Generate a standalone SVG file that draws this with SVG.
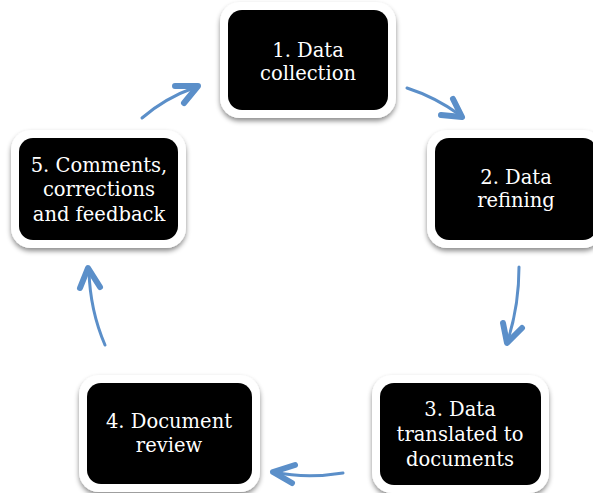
<svg xmlns="http://www.w3.org/2000/svg" width="593" height="493" viewBox="0 0 593 493">
<defs>
<filter id="sh" x="-20%" y="-20%" width="140%" height="150%">
<feGaussianBlur in="SourceAlpha" stdDeviation="2.5"/>
<feOffset dx="0" dy="3" result="b"/>
<feFlood flood-color="#000" flood-opacity="0.45"/>
<feComposite in2="b" operator="in"/>
<feMerge><feMergeNode/><feMergeNode in="SourceGraphic"/></feMerge>
</filter>
</defs>
<style>
.frame{fill:#fff;filter:url(#sh)}
.box{fill:#000}
.lbl{font-family:"DejaVu Serif","Liberation Serif",serif;font-size:19.5px;fill:#fff;text-anchor:middle}
.shaft{fill:none;stroke:#5B8FC9;stroke-width:3;stroke-linecap:round}
.head{fill:none;stroke:#5B8FC9;stroke-width:6;stroke-linecap:round;stroke-linejoin:round}
</style>
<rect width="593" height="493" fill="#fff"/>
<g id="node1">
<rect class="frame" x="220" y="2" width="176" height="116" rx="20"/>
<rect class="box" x="228" y="10" width="160" height="100" rx="14"/>
<text class="lbl" x="308" y="57">1. Data</text>
<text class="lbl" x="308" y="80">collection</text>
</g>
<g id="node2">
<rect class="frame" x="427" y="130" width="176" height="118" rx="20"/>
<rect class="box" x="435" y="138" width="162" height="102" rx="14"/>
<text class="lbl" x="516" y="184">2. Data</text>
<text class="lbl" x="516" y="207">refining</text>
</g>
<g id="node3">
<rect class="frame" x="372" y="375" width="177" height="118" rx="20"/>
<rect class="box" x="380" y="383" width="161" height="102" rx="14"/>
<text class="lbl" x="460" y="416">3. Data</text>
<text class="lbl" x="460" y="441">translated to</text>
<text class="lbl" x="460" y="466">documents</text>
</g>
<g id="node4">
<rect class="frame" x="79" y="375" width="181" height="117" rx="20"/>
<rect class="box" x="87" y="383" width="165" height="101" rx="14"/>
<text class="lbl" x="169" y="428">4. Document</text>
<text class="lbl" x="169" y="452">review</text>
</g>
<g id="node5">
<rect class="frame" x="11" y="130" width="175" height="118" rx="20"/>
<rect class="box" x="19" y="138" width="159" height="102" rx="14"/>
<text class="lbl" x="99" y="172">5. Comments,</text>
<text class="lbl" x="99" y="196">corrections</text>
<text class="lbl" x="99" y="221">and feedback</text>
</g>
<g id="connectors">
<path class="shaft" d="M407,88 Q435,97 460,115"/>
<polyline class="head" points="453,99 462,117 441,115"/>
<path class="shaft" d="M519,267 Q519,305 508,340"/>
<polyline class="head" points="503,323 507,343 522,328"/>
<path class="shaft" d="M343,473 Q305,479 275,472"/>
<polyline class="head" points="295,465 273,472 292,483"/>
<path class="shaft" d="M105,345 Q90,310 89,271"/>
<polyline class="head" points="80,288 88,268 100,287"/>
<path class="shaft" d="M142,118 Q165,98 196,87"/>
<polyline class="head" points="175,86 198,86 184,103"/>
</g>
</svg>
